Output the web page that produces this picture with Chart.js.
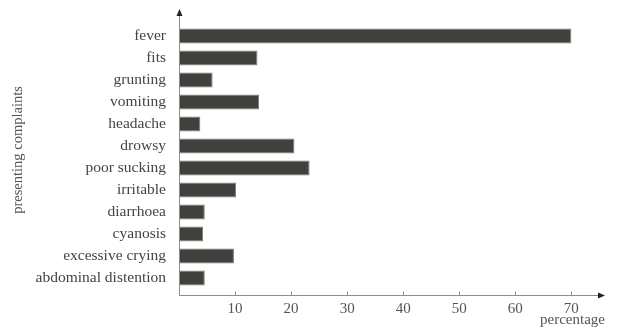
<!DOCTYPE html>
<html>
<head>
<meta charset="utf-8">
<script src="https://cdn.jsdelivr.net/npm/chart.js@4.4.0/dist/chart.umd.min.js"></script>
<style>
  body { margin: 0; background: #fff; }
</style>
</head>
<body>
<canvas id="complaints" width="617" height="329"></canvas>
<script>
// data
const complaints = ['fever', 'fits', 'grunting', 'vomiting', 'headache', 'drowsy',
    'poor sucking', 'irritable', 'diarrhoea', 'cyanosis', 'excessive crying', 'abdominal distention'];
const percentages = [70, 14, 6, 14.3, 3.8, 20.6, 23.3, 10.2, 4.6, 4.3, 9.8, 4.6];
const xTicks = [10, 20, 30, 40, 50, 60, 70];

const serif = "'Liberation Serif', 'DejaVu Serif', serif";

// axis lines with arrow heads, drawn like the original figure
const arrowAxes = {
    id: 'arrowAxes',
    afterDraw(chart) {
        const c = chart.ctx;
        const x = chart.scales.x;
        const area = chart.chartArea;
        const x0 = Math.round(x.getPixelForValue(0)) + 0.5;
        const yb = Math.round(area.bottom) + 6.5;
        const xr = area.right;
        c.save();
        c.strokeStyle = '#8c8c8c';
        c.lineWidth = 1;
        c.beginPath();
        c.moveTo(x0, area.top - 13);
        c.lineTo(x0, yb);
        c.lineTo(xr - 4, yb);
        c.stroke();
        // tick marks
        xTicks.forEach(function (v) {
            const px = Math.round(x.getPixelForValue(v)) + 0.5;
            c.beginPath();
            c.moveTo(px, yb - 4);
            c.lineTo(px, yb);
            c.stroke();
        });
        c.fillStyle = '#222';
        c.beginPath();
        c.moveTo(x0, area.top - 16);
        c.lineTo(x0 - 3, area.top - 9);
        c.lineTo(x0 + 3, area.top - 9);
        c.closePath();
        c.fill();
        c.beginPath();
        c.moveTo(xr, yb);
        c.lineTo(xr - 7, yb - 3);
        c.lineTo(xr - 7, yb + 3);
        c.closePath();
        c.fill();
        // y axis title
        c.translate(18, 150);
        c.rotate(-Math.PI / 2);
        c.fillStyle = '#555';
        c.font = '14.5px ' + serif;
        c.textAlign = 'center';
        c.textBaseline = 'middle';
        c.fillText('presenting complaints', 0, 0);
        c.restore();
    }
};

const ctx = document.getElementById('complaints').getContext('2d');
const myChart = new Chart(ctx, {
    type: 'bar',
    data: {
        labels: complaints,
        datasets: [{
            data: percentages,
            backgroundColor: '#40403c',
            borderColor: '#7a7a74',
            borderWidth: 1,
            barPercentage: 0.68,
            categoryPercentage: 1,
        }]
    },
    options: {
        indexAxis: 'y',
        responsive: false,
        animation: false,
        layout: {
            padding: { top: 25, right: 12, left: 0, bottom: 0 }
        },
        plugins: {
            legend: { display: false },
            tooltip: { enabled: false },
        },
        scales: {
            x: {
                min: 0,
                max: 76,
                afterFit: function (scale) { scale.height = 40; },
                afterBuildTicks: function (scale) {
                    scale.ticks = xTicks.map(function (v) { return { value: v }; });
                },
                grid: { display: false, drawTicks: false },
                border: { display: false },
                ticks: {
                    padding: 11,
                    color: '#555',
                    font: { family: serif, size: 15 },
                },
                title: {
                    display: true,
                    text: 'percentage',
                    align: 'end',
                    color: '#555',
                    font: { family: serif, size: 15 },
                    padding: { top: 0, bottom: 0 },
                },
            },
            y: {
                afterFit: function (scale) { scale.width = 179; },
                grid: { display: false, drawTicks: false },
                border: { display: false },
                ticks: {
                    padding: 13,
                    color: '#444',
                    font: { family: serif, size: 15.5 },
                },
            }
        }
    },
    plugins: [arrowAxes]
});
</script>
</body>
</html>
